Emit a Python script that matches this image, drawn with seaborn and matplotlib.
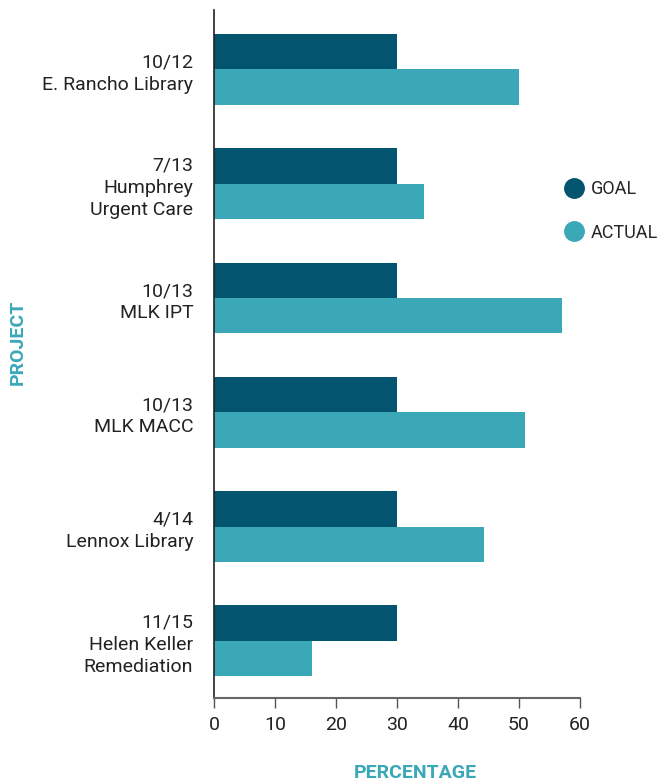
import matplotlib
matplotlib.use("Agg")
import matplotlib.pyplot as plt
from matplotlib.lines import Line2D
import seaborn as sns
import pandas as pd

projects = ["10/12\nE. Rancho Library", "7/13\nHumphrey\nUrgent Care", "10/13\nMLK IPT",
            "10/13\nMLK MACC", "4/14\nLennox Library", "11/15\nHelen Keller\nRemediation"]
goal = [30, 30, 30, 30, 30, 30]
actual = [50, 34.5, 57, 51, 44.3, 16]
series = ["GOAL", "ACTUAL"]
colors = {"GOAL": "#02546f", "ACTUAL": "#3ba8b8"}
xticks = [0, 10, 20, 30, 40, 50, 60]

df = pd.DataFrame({
    "project": projects * 2,
    "value": goal + actual,
    "series": ["GOAL"] * len(projects) + ["ACTUAL"] * len(projects),
})

sns.set_theme(style="white")
plt.rcParams["font.family"] = ["Roboto", "DejaVu Sans"]

fig = plt.figure(figsize=(6.62, 7.84), dpi=100)
ax = fig.add_axes([214/662, 1-698/784, (580-214)/662, (698-10)/784])

sns.barplot(data=df, y="project", x="value", hue="series", order=projects,
            hue_order=series, palette=colors, orient="h", width=0.62,
            saturation=1, ax=ax, legend=False, linewidth=0)

ax.set_xlim(0, 60)
ax.set_ylim(5.5, -0.52)
ax.set_xticks(xticks)
ax.set_xticklabels([str(t) for t in xticks], fontsize=14, color="#222222")
ax.tick_params(axis="x", length=7, width=1, color="#555555", pad=6, direction="out", bottom=True)
ax.tick_params(axis="y", length=0, pad=15, labelsize=14, labelcolor="#222222")
for lab in ax.get_yticklabels():
    lab.set_horizontalalignment("right")
    lab.set_multialignment("right")
    lab.set_linespacing(1.3)

for s in ["top", "right"]:
    ax.spines[s].set_visible(False)
ax.spines["left"].set_color("#222222")
ax.spines["left"].set_linewidth(1.2)
ax.spines["bottom"].set_color("#666666")
ax.spines["bottom"].set_linewidth(1.5)

ax.set_xlabel("")
ax.set_ylabel("")
fig.text(415/662, 1-773/784, "PERCENTAGE", color="#3ba8b8", fontsize=14,
         fontweight="bold", ha="center", va="center")
fig.text(18/662, 1-342/784, "PROJECT", color="#3ba8b8", fontsize=14,
         fontweight="bold", ha="center", va="center", rotation=90)

handles = [Line2D([0], [0], marker="o", linestyle="", markersize=14,
                  markerfacecolor=colors[s], markeredgecolor=colors[s], label=s) for s in series]
fig.legend(handles=handles, loc="center left", bbox_to_anchor=(565/662, 1-211/784),
           frameon=False, fontsize=13, handletextpad=0.45, labelspacing=1.4,
           borderaxespad=0, borderpad=0, handlelength=1.0)

fig.savefig("out.png", dpi=100)
